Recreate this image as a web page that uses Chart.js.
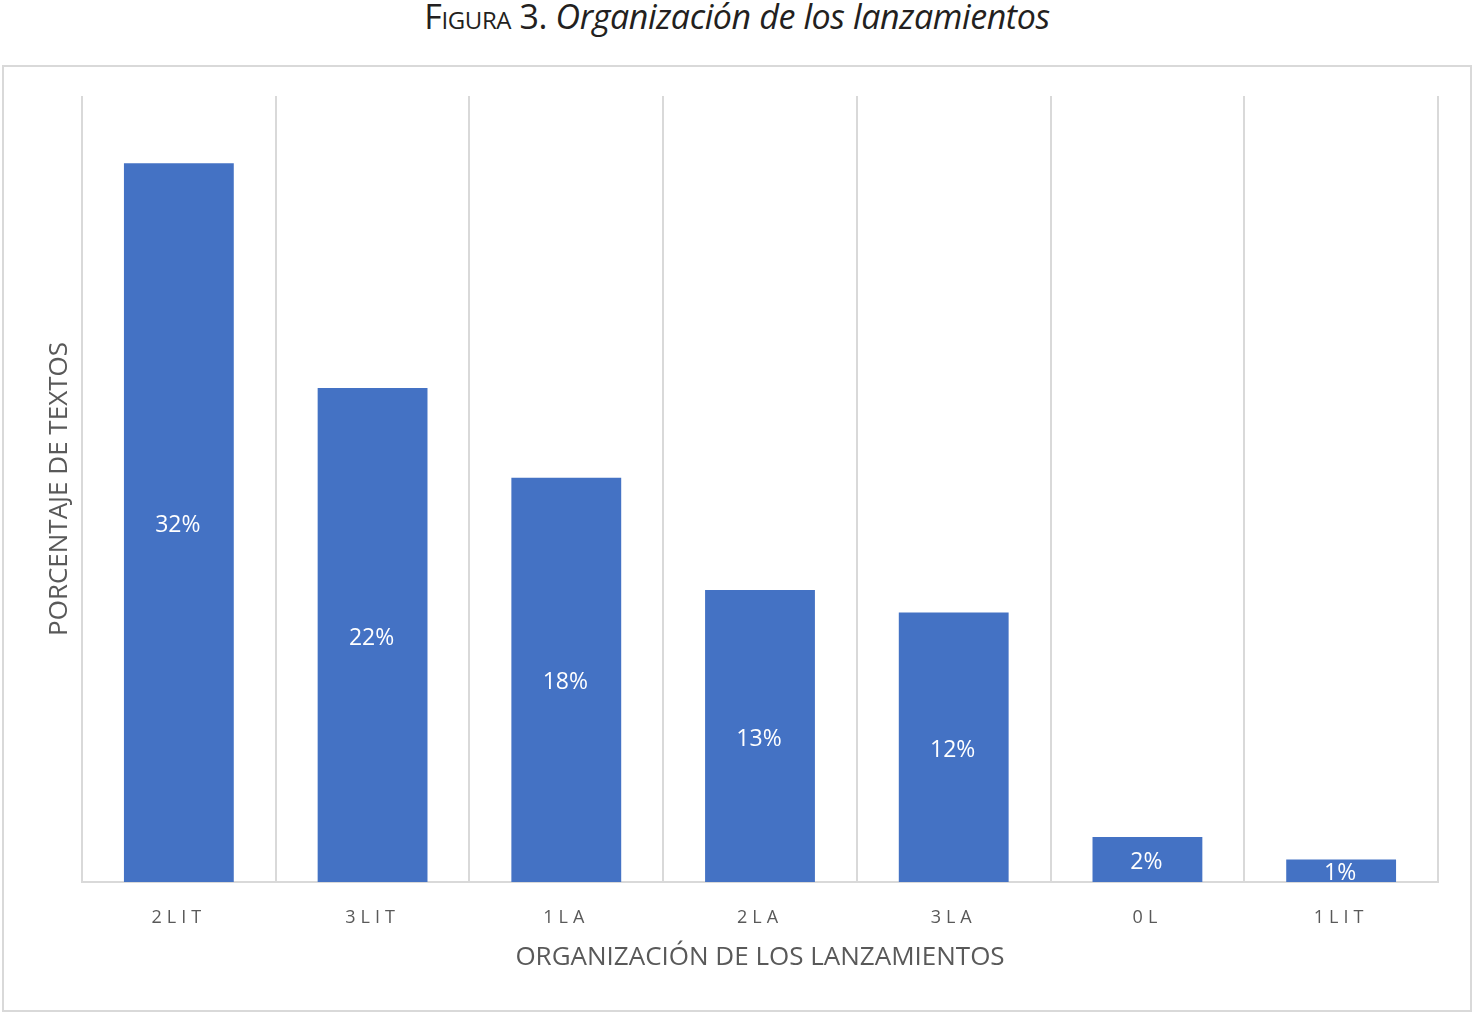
<!DOCTYPE html>
<html lang="es">
  <head>
    <meta charset="utf-8" />
    <title>Figura 3. Organización de los lanzamientos</title>
    <style>
      body { margin: 0; background: #fff; }
      .caption {
        position: absolute; left: 0; top: -3px; width: 1474px;
        text-align: center; font-family: "Open Sans", sans-serif;
        font-size: 34px; line-height: 38px; color: #231f20;
        letter-spacing: -0.4px;
      }
      .caption .sc { font-variant: small-caps; }
      .chartBox {
        position: absolute; left: 2px; top: 65px;
        width: 1466px; height: 943px;
        border: 2px solid #d9d9d9;
      }
    </style>
  </head>
  <body>
    <div class="caption"><span class="sc">Figura 3.</span> <i>Organización de los lanzamientos</i></div>
    <div class="chartBox"><canvas id="myChart" width="1466" height="943"></canvas></div>

    <script src="https://cdn.jsdelivr.net/npm/chart.js"></script>
    <script>
      // data
      const categories = ["2LIT", "3LIT", "1LA", "2LA", "3LA", "0L", "1LIT"];
      const percentages = [32, 22, 18, 13, 12, 2, 1];
      const yMax = 35;

      const grey = '#595959';
      const lineGrey = '#d9d9d9';

      // percentage labels in the middle of each bar, then letter spacing for x ticks
      const barLabels = {
        id: 'barLabels',
        afterDatasetsDraw(chart) {
          const ctx = chart.ctx;
          ctx.save();
          ctx.font = '23px "Open Sans", sans-serif';
          ctx.fillStyle = '#ffffff';
          ctx.textAlign = 'center';
          ctx.textBaseline = 'middle';
          chart.getDatasetMeta(0).data.forEach((bar, i) => {
            const mid = (bar.y + bar.base) / 2;
            ctx.fillText(percentages[i] + '%', bar.x - 1, mid + 3);
          });
          ctx.restore();
          ctx.letterSpacing = '5px';
        },
        afterDraw(chart) {
          chart.ctx.letterSpacing = '0px';
        }
      };

      const config = {
        type: 'bar',
        data: {
          labels: categories,
          datasets: [{
            data: percentages,
            backgroundColor: '#4472c4',
            barPercentage: 0.567,
            categoryPercentage: 1
          }]
        },
        options: {
          responsive: false,
          animation: false,
          layout: { padding: { left: 0, right: 32, top: 29, bottom: 0 } },
          plugins: {
            legend: { display: false },
            tooltip: { enabled: false }
          },
          scales: {
            x: {
              afterFit(scale) { scale.height = 128; },
              grid: { color: lineGrey, lineWidth: 2, drawTicks: false, offset: true },
              border: { color: lineGrey, width: 2 },
              ticks: {
                z: 1,
                color: grey,
                padding: 25,
                font: { family: '"Open Sans", sans-serif', size: 18 }
              },
              title: {
                display: true,
                text: 'ORGANIZACIÓN DE LOS LANZAMIENTOS',
                color: grey,
                font: { family: '"Open Sans", sans-serif', size: 26 },
                padding: { top: 0, bottom: 37 }
              }
            },
            y: {
              min: 0,
              max: yMax,
              afterFit(scale) { scale.width = 78; },
              grid: { display: false },
              border: { display: false },
              ticks: { display: false },
              title: {
                display: true,
                text: 'PORCENTAJE DE TEXTOS',
                color: grey,
                font: { family: '"Open Sans", sans-serif', size: 26 },
                padding: { top: 40, bottom: 0 }
              }
            }
          }
        },
        plugins: [barLabels]
      };

      const myChart = new Chart(document.getElementById('myChart'), config);
    </script>
  </body>
</html>
